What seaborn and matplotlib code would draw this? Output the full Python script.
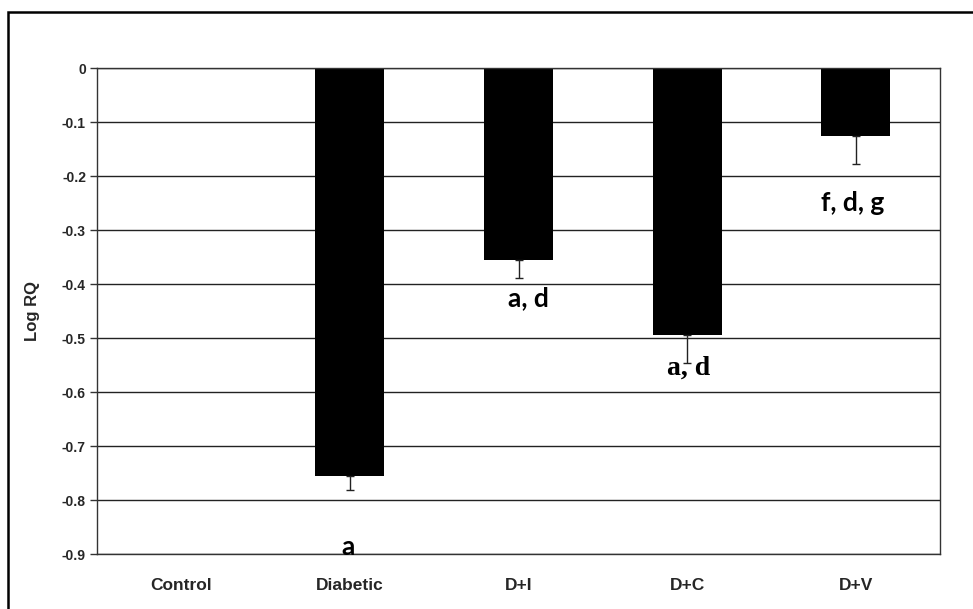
import matplotlib
matplotlib.use("Agg")
import matplotlib.pyplot as plt
import seaborn as sns
import pandas as pd
import numpy as np
from matplotlib.patches import Rectangle

categories = ["Control", "Diabetic", "D+I", "D+C", "D+V"]
log_rq = [0.0, -0.755, -0.355, -0.494, -0.126]
err_low = [0.0, 0.026, 0.034, 0.052, 0.052]
letters = ["", "a", "a, d", "a, d", "f, d, g"]
letter_y = [0.0, -0.887, -0.426, -0.556, -0.25]
letter_dx = [0.0, -0.01, 0.06, 0.01, -0.02]
letter_font = ["Lato", "Lato", "Lato", "Liberation Serif", "Lato"]
yticks = [0, -0.1, -0.2, -0.3, -0.4, -0.5, -0.6, -0.7, -0.8, -0.9]

sns.set_theme(style="white")
plt.rcParams['font.family'] = ['Liberation Sans', 'DejaVu Sans']

df = pd.DataFrame({"cat": categories, "val": log_rq})

fig = plt.figure(figsize=(9.73, 6.09), dpi=100)
ax = fig.add_axes([97/973, 1-554/609, (940-97)/973, (554-68)/609])

# outer frame
fig.patches.append(Rectangle((8/973, -0.05), 1.2, 1-12/609+0.05, transform=fig.transFigure,
                             fill=False, edgecolor='black', linewidth=1.8, zorder=10))

ax.set_axisbelow(True)
for t in yticks:
    ax.axhline(t, color='#222222', linewidth=1.0, zorder=0)

sns.barplot(data=df, x="cat", y="val", color="black", width=0.41, ax=ax,
            saturation=1, linewidth=0, zorder=2)

idx = [i for i, e in enumerate(err_low) if e > 0]
ax.errorbar(idx, [log_rq[i] for i in idx],
            yerr=[[err_low[i] for i in idx], [0]*len(idx)], fmt='none',
            ecolor='#222222', elinewidth=1.0, capsize=3, capthick=1.0, zorder=3)

for i, (lab, yy) in enumerate(zip(letters, letter_y)):
    if lab:
        ax.text(i + letter_dx[i], yy, lab, ha='center', va='center',
                fontsize=20 if letter_font[i] == "Liberation Serif" else 19,
                fontweight='bold', family=letter_font[i], color='black', zorder=4)

ax.set_ylim(-0.9, 0)
ax.set_xlim(-0.5, 4.5)
ax.set_yticks(yticks)
ax.set_yticklabels(["0" if t == 0 else f"{t:.1f}" for t in yticks],
                   fontsize=10, fontweight='bold')
ax.set_xticks(np.arange(len(categories)))
ax.set_xticklabels(categories, fontsize=12.5, fontweight='bold')
ax.tick_params(axis='y', direction='out', length=5, width=1, color='#333333', pad=3, left=True)
ax.tick_params(axis='x', length=0, pad=17)
ax.set_xlabel("")
ax.set_ylabel("Log RQ", fontsize=12, fontweight='bold', labelpad=16)
for s in ax.spines.values():
    s.set_color('#333333')
    s.set_linewidth(1.0)
    s.set_visible(True)

fig.savefig("out.png", dpi=100)
